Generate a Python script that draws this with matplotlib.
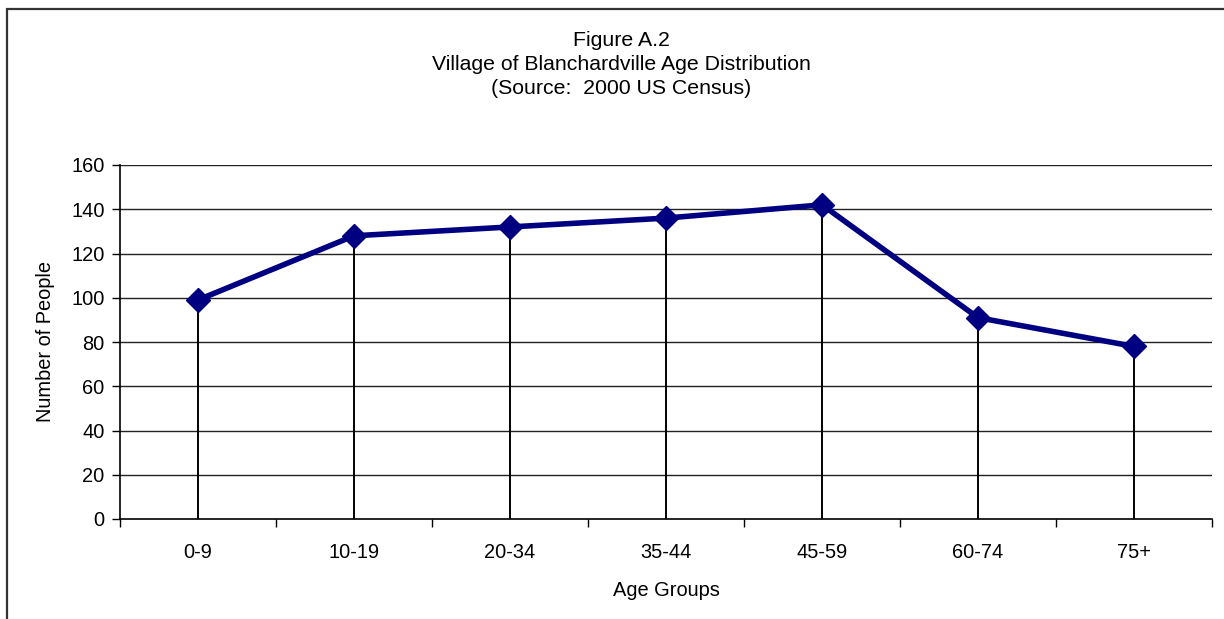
import matplotlib
matplotlib.use("Agg")
import matplotlib.pyplot as plt
from matplotlib.patches import Rectangle
from matplotlib.ticker import FixedLocator, NullFormatter

categories = ["0-9", "10-19", "20-34", "35-44", "45-59", "60-74", "75+"]
values = [99, 128, 132, 136, 142, 91, 78]
yticks = [0, 20, 40, 60, 80, 100, 120, 140, 160]

plt.rcParams['font.family'] = ['Liberation Sans', 'DejaVu Sans']

W, H = 1224, 619
fig = plt.figure(figsize=(W/100, H/100), dpi=100)
fig.patch.set_facecolor('white')

# outer frame (left/top visible)
fig.patches.append(Rectangle((7/W, -0.1), 1.2, 1 - 9/H + 0.1, transform=fig.transFigure,
                             fill=False, edgecolor='#333333', linewidth=1.6))

ax = fig.add_axes([120/W, 1 - 519/H, (1212-120)/W, (519-165)/H])
x = list(range(len(categories)))

ax.set_xlim(-0.5, len(categories) - 0.5)
ax.set_ylim(0, 160)

for yv in yticks[1:]:
    ax.axhline(yv, color='#222222', linewidth=1.0, zorder=1)

ax.vlines(x, 0, values, color='black', linewidth=1.4, zorder=2)
ax.plot(x, values, color='#000080', linewidth=4, marker='D', markersize=12,
        markerfacecolor='#000080', markeredgecolor='#000080', zorder=3)

for s in ['top', 'right']:
    ax.spines[s].set_visible(False)
ax.spines['left'].set_linewidth(1.2)
ax.spines['bottom'].set_linewidth(1.2)

FS = 14.4
ax.set_yticks(yticks)
ax.set_yticklabels([str(v) for v in yticks], fontsize=FS)
ax.tick_params(axis='y', direction='out', length=6, width=1, pad=5)

ax.set_xticks(x)
ax.set_xticklabels(categories, fontsize=FS)
ax.tick_params(axis='x', which='major', length=0, pad=17)
ax.xaxis.set_minor_locator(FixedLocator([i - 0.5 for i in range(len(categories) + 1)]))
ax.xaxis.set_minor_formatter(NullFormatter())
ax.tick_params(axis='x', which='minor', direction='out', length=6, width=1)

ax.set_xlabel("Age Groups", fontsize=FS, labelpad=14)
ax.set_ylabel("Number of People", fontsize=FS, labelpad=12)

TS = 15.3
fig.text(621/W, 1 - 40/H, "Figure A.2", ha='center', va='center', fontsize=TS)
fig.text(621/W, 1 - 64/H, "Village of Blanchardville Age Distribution", ha='center', va='center', fontsize=TS)
fig.text(621/W, 1 - 88/H, "(Source:  2000 US Census)", ha='center', va='center', fontsize=TS)

fig.savefig("out.png", dpi=100)
